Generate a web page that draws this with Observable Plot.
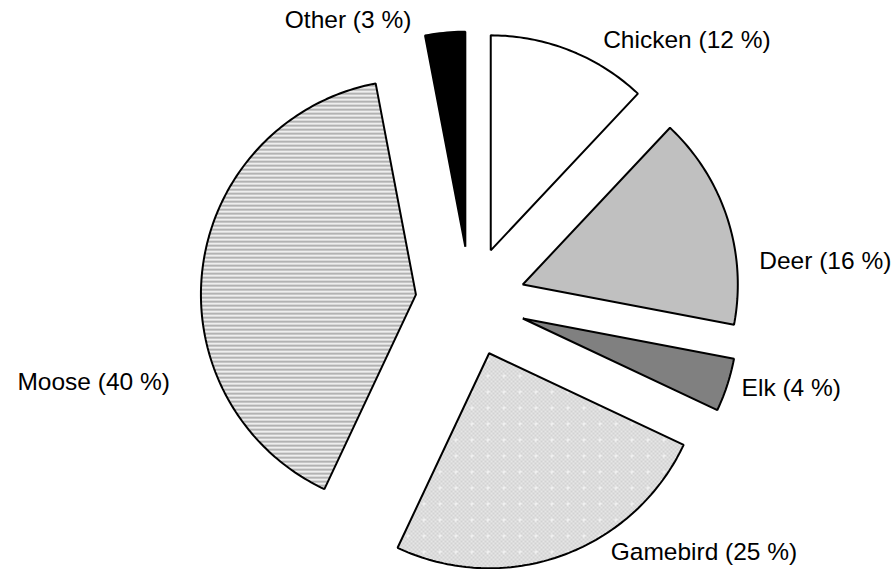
<!DOCTYPE html>
<html>
<head>
<meta charset="utf-8">
<script src="https://cdn.jsdelivr.net/npm/d3@7"></script>
<script src="https://cdn.jsdelivr.net/npm/@observablehq/plot@0.6"></script>
<style>
  html, body { margin: 0; padding: 0; background: #fff; }
  #chart svg { display: block; }
</style>
</head>
<body>
<div id="chart"></div>
<script>
// Share of meat consumed, by source (percent)
const categories = ["Chicken", "Deer", "Elk", "Gamebird", "Moose", "Other"];
const shares = [12, 16, 4, 25, 40, 3];

// Slice fills (solid greys, or SVG patterns defined below)
const sliceFill = {
  Chicken: "white",
  Deer: "#c0c0c0",
  Elk: "#808080",
  Gamebird: "url(#dotted)",
  Moose: "url(#striped)",
  Other: "black"
};

// Layout
const width = 892, height = 569;
const cx = 470, cy = 301;      // pie centre in pixels
const radius = 215;            // pixels per unit radius
const explode = 55 / radius;   // slice offset, in radii
const labelNudge = {           // label offset from the slice's outer midpoint (px)
  Chicken: [117, -10],
  Deer: [98, 43],
  Elk: [64, 3],
  Gamebird: [142, -3],
  Moose: [-109, 114],
  Other: [-97, -13]
};

// Slice geometry in unit coordinates (y up, angles clockwise from 12 o'clock)
const total = d3.sum(shares);
let acc = 0;
const slices = categories.map((key, i) => {
  const a0 = (acc / total) * 2 * Math.PI;
  acc += shares[i];
  const a1 = (acc / total) * 2 * Math.PI;
  const mid = (a0 + a1) / 2;
  return {key, value: shares[i], a0, a1, mid,
          ox: explode * Math.sin(mid), oy: explode * Math.cos(mid)};
});

const outline = [];
for (const s of slices) {
  outline.push({key: s.key, fill: sliceFill[s.key], x: s.ox, y: s.oy});
  const n = Math.max(4, Math.ceil((s.a1 - s.a0) * 180 / Math.PI));
  for (let j = 0; j <= n; ++j) {
    const a = s.a0 + (s.a1 - s.a0) * j / n;
    outline.push({key: s.key, fill: sliceFill[s.key], x: s.ox + Math.sin(a), y: s.oy + Math.cos(a)});
  }
}

const labelData = slices.map(s => ({
  key: s.key,
  text: `${s.key} (${s.value} %)`,
  x: (1 + explode) * Math.sin(s.mid),
  y: (1 + explode) * Math.cos(s.mid)
}));

// Pattern definitions used by the slice fills
function patterns() {
  const defs = d3.create("svg:defs");
  const st = defs.append("pattern").attr("id", "striped")
    .attr("patternUnits", "userSpaceOnUse").attr("width", 8).attr("height", 4);
  st.append("rect").attr("width", 8).attr("height", 4).attr("fill", "#ffffff");
  st.append("rect").attr("y", 0).attr("width", 8).attr("height", 2).attr("fill", "#b2b2b2");
  st.append("rect").attr("y", 2).attr("width", 8).attr("height", 1).attr("fill", "#dcdcdc");

  const dt = defs.append("pattern").attr("id", "dotted")
    .attr("patternUnits", "userSpaceOnUse").attr("width", 16).attr("height", 16);
  dt.append("rect").attr("width", 16).attr("height", 16).attr("fill", "#e6e6e6");
  for (let r = 0; r < 8; ++r) {
    for (let c = 0; c < 8; ++c) {
      if ((r + c) % 2 === 0) {
        dt.append("rect").attr("x", c * 2).attr("y", r * 2)
          .attr("width", 2).attr("height", 2).attr("fill", "#d2d2d2");
      }
    }
  }
  dt.append("rect").attr("x", 6).attr("y", 7).attr("width", 4).attr("height", 1).attr("fill", "#f4f4f4");
  dt.append("rect").attr("x", 7).attr("y", 6).attr("width", 1).attr("height", 4).attr("fill", "#f4f4f4");
  return defs.node();
}

const chart = Plot.plot({
  width, height,
  margin: 0,
  style: {fontFamily: "'Liberation Sans', Arial, sans-serif", background: "white"},
  x: {domain: [-cx / radius, (width - cx) / radius], range: [0, width], axis: null},
  y: {domain: [-(height - cy) / radius, cy / radius], range: [height, 0], axis: null},
  color: {type: "identity"},
  marks: [
    patterns,
    Plot.line(outline, {
      x: "x", y: "y", z: "key", fill: "fill",
      stroke: "black", strokeWidth: 2, strokeLinejoin: "miter",
      curve: "linear-closed"
    }),
    ...labelData.map(d => Plot.text([d], {
      x: "x", y: "y", text: "text",
      dx: labelNudge[d.key][0], dy: labelNudge[d.key][1],
      textAnchor: "middle", fontSize: 24.5, fill: "black"
    }))
  ]
});

document.getElementById("chart").appendChild(chart);
</script>
</body>
</html>
